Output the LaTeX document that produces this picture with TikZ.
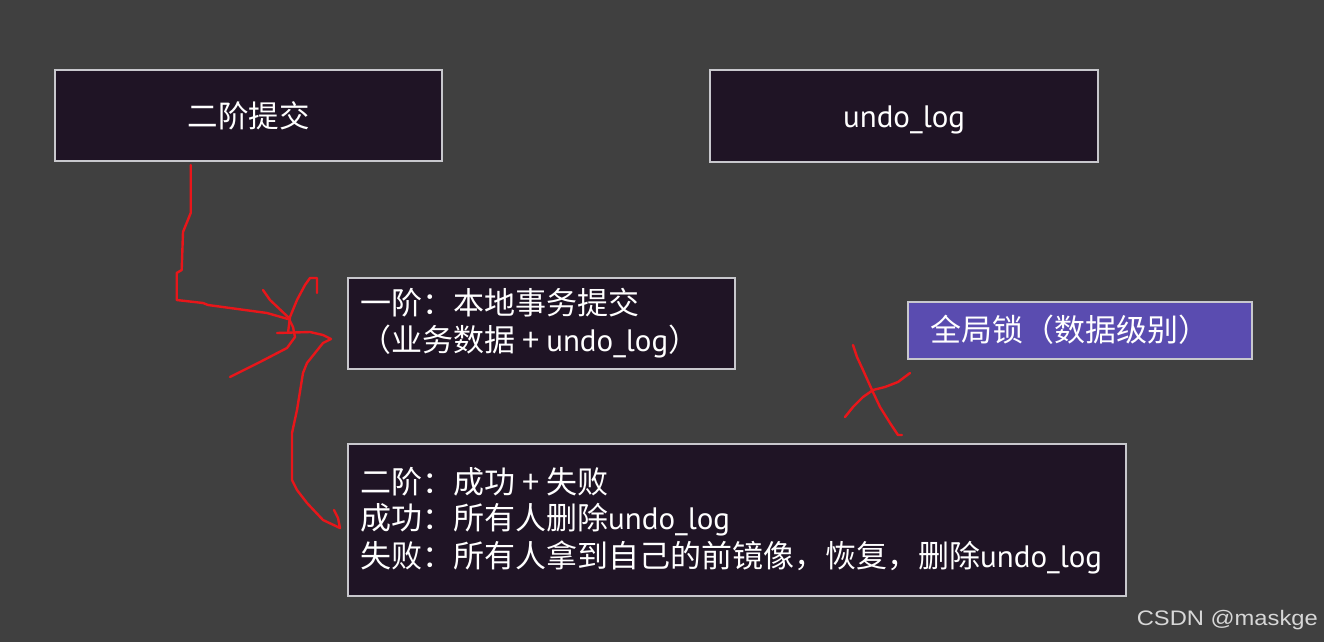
\documentclass[tikz,border=0pt]{standalone}
\usepackage{fontspec}
\newfontfamily\cjk{Noto Sans CJK SC}
\newfontfamily\latf{PT Sans}
\newfontfamily\wmfont[FakeStretch=1.13]{Liberation Sans}
\newcommand{\ul}{{\latf undo\_log}}
\definecolor{bg}{RGB}{64,64,64}
\definecolor{boxfill}{RGB}{31,20,37}
\definecolor{boxline}{RGB}{200,200,205}
\definecolor{lockfill}{RGB}{90,76,176}
\definecolor{pen}{RGB}{232,22,26}
\begin{document}
\begin{tikzpicture}[x=1pt,y=-1pt,
  box/.style={draw=boxline, line width=2.2pt, fill=boxfill, anchor=north west, inner sep=0pt},
  lbl/.style={text=white, font=\cjk\fontsize{31}{36}\selectfont, inner sep=0pt},
  stroke/.style={draw=pen, line width=2.4pt, line cap=round, line join=round}]
\fill[bg] (0,0) rectangle (1324,642);
\useasboundingbox (0,0) rectangle (1324,642);
% boxes
\node[box, minimum width=387, minimum height=91] (b1) at (54,69) {};
\node[lbl, font=\cjk\fontsize{30.5}{36}\selectfont] (t1) at (b1.center) {二阶提交};
\node[box, minimum width=388, minimum height=92] (b2) at (709,69) {};
\node[lbl] (t2) at ([yshift=-4pt]b2.center) {\ul};
\node[box, minimum width=387, minimum height=91] (b3) at (347,277) {};
\node[lbl, anchor=west] (t3a) at (360,303) {一阶：本地事务提交};
\node[lbl, anchor=west] (t3b) at (360,342) {（业务数据 + \ul）};
\node[box, fill=lockfill, minimum width=344, minimum height=57] (b4) at (907,301) {};
\node[lbl] (t4) at (1070,330) {全局锁（数据级别）};
\node[box, minimum width=778, minimum height=152] (b5) at (347,443) {};
\node[lbl, anchor=west] (t5a) at (360,482) {二阶：成功 + 失败};
\node[lbl, anchor=west] (t5b) at (360,520) {成功：所有人删除\ul};
\node[lbl, anchor=west] (t5c) at (360,557) {失败：所有人拿到自己的前镜像，恢复，删除\ul};
% hand drawn red strokes
\draw[stroke] (190.7,165) -- (190.7,213) -- (183,232) -- (181.7,270) -- (176.7,273) -- (176.7,300) -- (203,303) -- (208,305) -- (267,313) -- (288,319);
\draw[stroke] (263,290) -- (270,300) -- (288,317) -- (293,327) -- (295,337) -- (287,348) -- (260,362) -- (230,377);
\draw[stroke] (317,293) -- (317,278) -- (310,278) -- (305,285) -- (297,300) -- (290,317) -- (288,333);
\draw[stroke] (277,333) -- (310,332) -- (323,335) -- (331,339) -- (323,343) -- (315,353) -- (307,363) -- (303,373) -- (297,410) -- (292,433) -- (292,480) -- (297,490) -- (307,503) -- (323,520) -- (340,528) -- (338,518) -- (334,510);
\draw[stroke] (853,345) -- (857,357) -- (863,370) -- (872,390) -- (880,407) -- (890,423) -- (898,435) -- (902,435);
\draw[stroke] (910,373) -- (898,382) -- (885,387) -- (873,390) -- (863,397) -- (853,407) -- (845,417);
% watermark
\node[text={rgb,255:red,215;green,215;blue,215}, font=\wmfont\fontsize{21}{24}\selectfont, anchor=east, inner sep=0pt] (wm) at (1318,620) {CSDN @maskge};
\end{tikzpicture}
\end{document}
